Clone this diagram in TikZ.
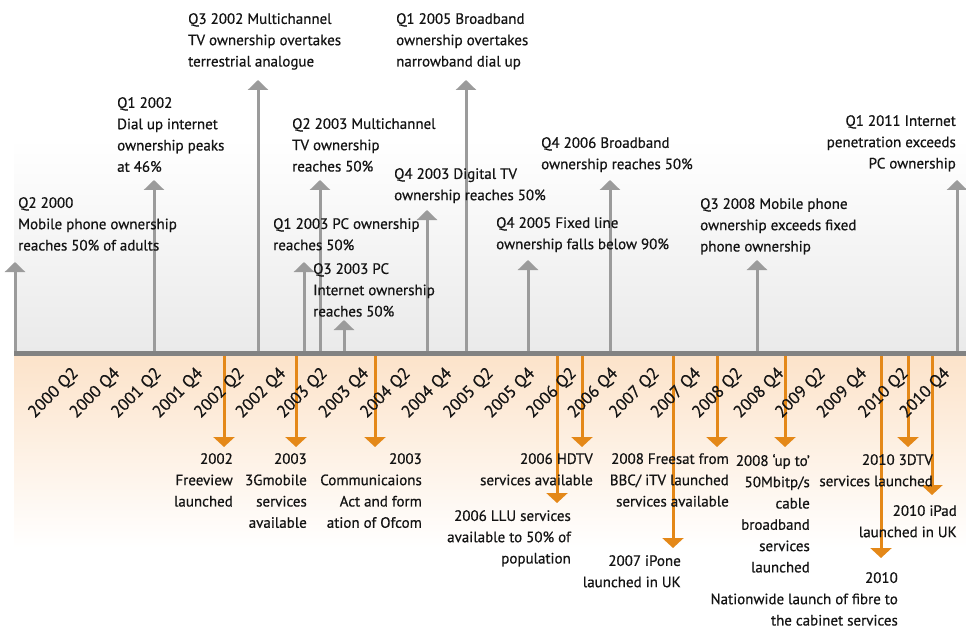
\documentclass[tikz,border=0pt]{standalone}
\usepackage{fontspec}
\setmainfont{PT Sans}[FakeBold=0.6]
\usetikzlibrary{arrows.meta}
\definecolor{axisgray}{RGB}{130,130,130}
\definecolor{arrgray}{RGB}{155,155,155}
\definecolor{orng}{RGB}{228,136,24}
\definecolor{peach}{RGB}{252,227,202}
\definecolor{topgray}{RGB}{234,234,234}
\definecolor{txt}{RGB}{20,20,20}
\begin{document}
\begin{tikzpicture}[x=1pt,y=-1pt,
  up/.style={draw=arrgray, line width=3pt, -{Triangle[width=20pt,length=10pt]}},
  down/.style={draw=orng, line width=3pt, -{Triangle[width=21pt,length=10pt]}},
  evt/.style={inner sep=0pt, font=\fontsize{15}{21.3}\selectfont, text=txt},
  evl/.style={evt, anchor=north west, align=left},
  evr/.style={evt, anchor=north east, align=right},
  ticklab/.style={inner sep=0pt, rotate=45, anchor=east, text=txt, font=\fontsize{17}{18}\selectfont}]
\useasboundingbox (0,0) rectangle (966,631);
\shade[top color=white, bottom color=topgray] (14,138) rectangle (966,352);
\shade[top color=peach, bottom color=white] (14,356) rectangle (966,548);

% axis
\coordinate (ax0) at (14,353.5);
\coordinate (ax1) at (966,353.5);

% up arrows
\foreach \n/\x/\t in {1/15/262, 2/154/180, 3/258/80, 4/304/262, 5/320/180, 6/344/320,
  7/427/210, 8/466/80, 9/528/260, 10/610/180, 11/757/260, 12/957/180}{
  \coordinate (ub\n) at (\x,352);
  \coordinate (ut\n) at (\x,\t);
  \draw[up] (ub\n) -- (ut\n);
}
\draw[axisgray, line width=4.5pt] (ax0) -- (ax1);

% down arrows
\foreach \n/\x/\t in {1/224/447, 2/296/447, 3/375/447, 4/557/503, 5/582/447, 6/673/548,
  7/717/447, 8/785/447, 9/881/558, 10/908/447, 11/932/495}{
  \coordinate (db\n) at (\x,356);
  \coordinate (dt\n) at (\x,\t);
  \draw[down] (db\n) -- (dt\n);
}

% tick labels
\foreach \i in {0,...,21}{
  \pgfmathtruncatemacro\yr{2000+floor(\i/2)}
  \pgfmathtruncatemacro\qq{mod(\i,2)==0 ? 2 : 4}
  \node[ticklab] (tk\i) at ({76+41.5*\i},371) {\yr\ Q\qq};
}

% upper labels
\node[evl] (l1) at (18,197) {Q2 2000\\Mobile phone ownership\\reaches 50\% of adults};
\node[evl] (l2) at (117,97) {Q1 2002\\Dial up internet\\ownership peaks\\at 46\%};
\node[evl] (l3) at (188,13) {Q3 2002 Multichannel\\TV ownership overtakes\\terrestrial analogue};
\node[evl] (l4) at (292,118) {Q2 2003 Multichannel\\TV ownership\\reaches 50\%};
\node[evl] (l5) at (273,218) {Q1 2003 PC ownership\\reaches 50\%};
\node[evl] (l6) at (313,263) {Q3 2003 PC\\Internet ownership\\reaches 50\%};
\node[evl] (l7) at (394,168) {Q4 2003 Digital TV\\ownership reaches 50\%};
\node[evl] (l8) at (396,13) {Q1 2005 Broadband\\ownership overtakes\\narrowband dial up};
\node[evl] (l9) at (496,217) {Q4 2005 Fixed line\\ownership falls below 90\%};
\node[evl] (l10) at (541,137) {Q4 2006 Broadband\\ownership reaches 50\%};
\node[evl] (l11) at (700,198) {Q3 2008 Mobile phone\\ownership exceeds fixed\\phone ownership};
\node[evr] (l12) at (956,115) {Q1 2011 Internet\\penetration exceeds\\PC ownership};

% lower labels
\node[evr] (b1) at (233,453) {2002\\Freeview\\launched};
\node[evr] (b2) at (307,453) {2003\\3Gmobile\\services\\available};
\node[evr] (b3) at (422,453) {2003\\Communicaions\\Act and form\\ation of Ofcom};
\node[evr] (b4) at (593,453) {2006 HDTV\\services available};
\node[evr] (b5) at (571,510) {2006 LLU services\\available to 50\% of\\population};
\node[evr] (b6) at (729,453) {2008 Freesat from\\BBC/ iTV launched\\services available};
\node[evr] (b7) at (681,555) {2007 iPone\\launched in UK};
\node[evr] (b8) at (810,454) {2008 ‘up to’\\50Mbitp/s\\cable\\broadband\\services\\launched};
\node[evr] (b9) at (933,454) {2010 3DTV\\services launched};
\node[evr] (b10) at (957,505) {2010 iPad\\launched in UK};
\node[evr] (b11) at (898,572) {2010\\Nationwide launch of fibre to\\the cabinet services};
\end{tikzpicture}
\end{document}
